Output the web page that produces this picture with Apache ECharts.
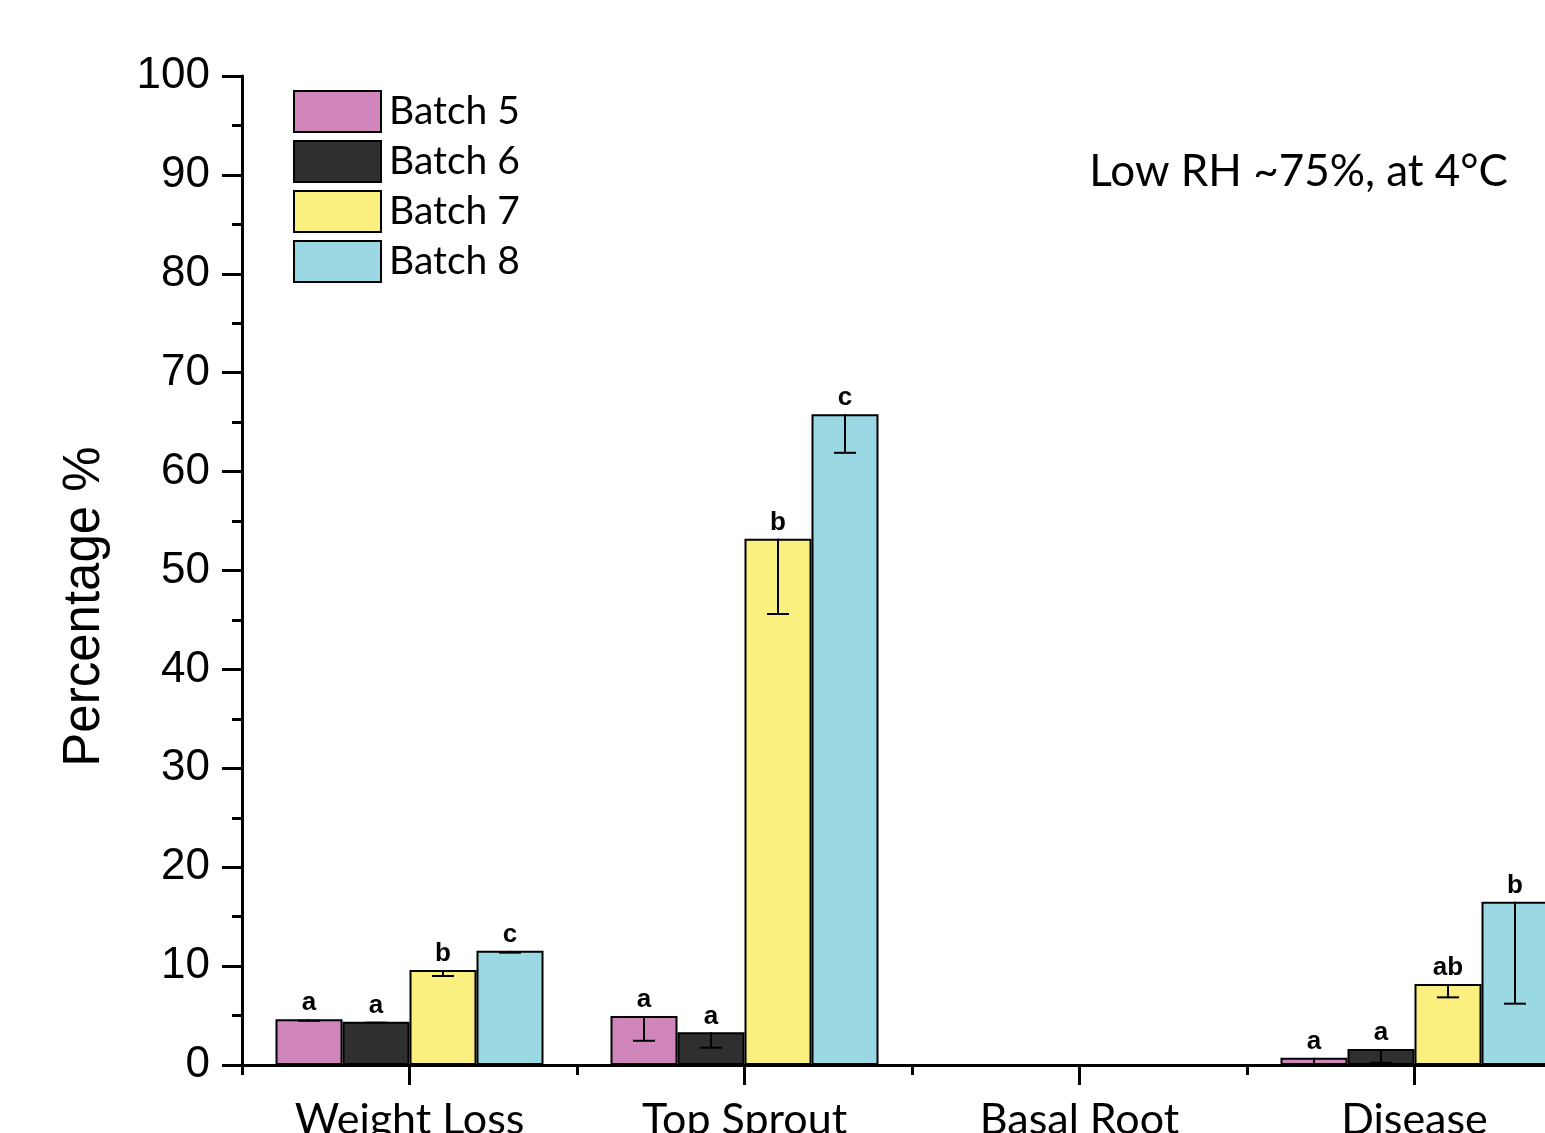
<!DOCTYPE html>
<html>
<head>
<meta charset="utf-8">
<title>Batch comparison, Low RH</title>
<script src="https://cdn.jsdelivr.net/npm/echarts@6/dist/echarts.min.js"></script>
<style>
  html, body { margin: 0; padding: 0; background: #fff; }
  #chart { width: 1545px; height: 1133px; }
</style>
</head>
<body>
<div id="chart"></div>
<script>
// Measured traits per category
const categories = ['Weight Loss', 'Top Sprout', 'Basal Root', 'Disease'];
const batchNames = ['Batch 5', 'Batch 6', 'Batch 7', 'Batch 8'];

// Mean percentages
const batch5 = [4.62, 4.95, 0, 0.74];
const batch6 = [4.38, 3.30, 0, 1.62];
const batch7 = [9.60, 53.2, 0, 8.19];
const batch8 = [11.56, 65.8, 0, 16.5];

// Error (drawn below the mean)
const err5 = [0.15, 2.5, 0, 0.74];
const err6 = [0.10, 1.55, 0, 1.4];
const err7 = [0.6, 7.6, 0, 1.35];
const err8 = [0.2, 3.9, 0, 10.3];

// Significance letters
const letters5 = ['a', 'a', '', 'a'];
const letters6 = ['a', 'a', '', 'a'];
const letters7 = ['b', 'b', '', 'ab'];
const letters8 = ['c', 'c', '', 'b'];

const yTicks = { min: 0, max: 100, interval: 10 };

const colors = ['#D086BA', '#2F2F2F', '#F9F07F', '#9AD8E3'];
const means = [batch5, batch6, batch7, batch8];
const errs = [err5, err6, err7, err8];
const letters = [letters5, letters6, letters7, letters8];

const GEO = 'Lato, "Noto Sans", sans-serif';
const SANS = '"Liberation Sans", Arial, sans-serif';
const CAT_GAP = 0.2;

const barSeries = batchNames.map((name, i) => ({
  name: name,
  type: 'bar',
  data: means[i],
  barGap: '0%',
  barCategoryGap: (CAT_GAP * 100) + '%',
  itemStyle: { color: colors[i], borderColor: '#000', borderWidth: 2 },
  label: {
    show: true,
    position: 'top',
    distance: 3,
    fontFamily: SANS,
    fontWeight: 'bold',
    fontSize: 26,
    color: '#000',
    formatter: p => letters[i][p.dataIndex]
  },
  emphasis: { disabled: true },
  z: 2
}));

// Error bar records: [category index, batch index, mean, error]
const errData = [];
for (let s = 0; s < means.length; s++) {
  for (let c = 0; c < categories.length; c++) {
    if (errs[s][c] > 0) errData.push([c, s, means[s][c], errs[s][c]]);
  }
}

const errorSeries = {
  type: 'custom',
  data: errData,
  encode: { x: 0, y: 2 },
  z: 5,
  silent: true,
  renderItem: function (params, api) {
    const c = api.value(0), s = api.value(1), v = api.value(2), e = api.value(3);
    const band = api.size([1, 0])[0];
    const barW = band * (1 - CAT_GAP) / batchNames.length;
    const x = api.coord([c, 0])[0] + (s - (batchNames.length - 1) / 2) * barW;
    const yTop = api.coord([c, v])[1];
    const yBot = api.coord([c, v - e])[1];
    const cap = 11;
    const style = { stroke: '#000', lineWidth: 2 };
    return {
      type: 'group',
      children: [
        { type: 'line', shape: { x1: x, y1: yTop, x2: x, y2: yBot }, style: style },
        { type: 'line', shape: { x1: x - cap, y1: yBot, x2: x + cap, y2: yBot }, style: style }
      ]
    };
  }
};

const chart = echarts.init(document.getElementById('chart'), null, { renderer: 'canvas' });

chart.setOption({
  backgroundColor: '#fff',
  animation: false,
  title: {
    text: 'Low RH ~75%, at 4°C',
    right: 32,
    top: 145,
    textStyle: { fontFamily: GEO, fontWeight: 'normal', fontSize: 44, color: '#000' }
  },
  legend: {
    data: batchNames,
    orient: 'vertical',
    left: 288,
    top: 85,
    itemWidth: 87,
    itemHeight: 41,
    itemGap: 7,
    icon: 'rect',
    textStyle: { fontFamily: GEO, fontSize: 39, lineHeight: 41, color: '#000', padding: [0, 0, 0, 3] },
    selectedMode: false
  },
  grid: {
    left: 242,
    top: 76,
    width: 1340,
    height: 989,
    containLabel: false,
    outerBoundsMode: 'none'
  },
  xAxis: [
    {
      type: 'category',
      data: categories,
      axisLine: { show: true, lineStyle: { color: '#000', width: 3 } },
      axisTick: { show: true, alignWithLabel: true, interval: 0, length: 20, lineStyle: { color: '#000', width: 3 } },
      axisLabel: { interval: 0, margin: 34, fontFamily: GEO, fontSize: 43, color: '#000' },
      splitLine: { show: false }
    },
    {
      type: 'category',
      data: categories,
      position: 'bottom',
      axisLine: { show: false },
      axisTick: { show: true, interval: 0, length: 10, lineStyle: { color: '#000', width: 3 } },
      axisLabel: { show: false },
      splitLine: { show: false }
    }
  ],
  yAxis: {
    type: 'value',
    min: yTicks.min,
    max: yTicks.max,
    interval: yTicks.interval,
    name: 'Percentage %',
    nameLocation: 'middle',
    nameRotate: 90,
    nameGap: 132,
    nameTextStyle: { fontFamily: SANS, fontSize: 51, color: '#000', padding: [0, 72, 0, 0] },
    axisLine: { show: true, lineStyle: { color: '#000', width: 3 } },
    axisTick: { show: true, length: 20, lineStyle: { color: '#000', width: 3 } },
    minorTick: { show: true, splitNumber: 2, length: 10, lineStyle: { color: '#000', width: 3 } },
    axisLabel: { margin: 32, fontFamily: SANS, fontSize: 44, color: '#000' },
    splitLine: { show: false }
  },
  series: barSeries.concat([errorSeries])
});
</script>
</body>
</html>
